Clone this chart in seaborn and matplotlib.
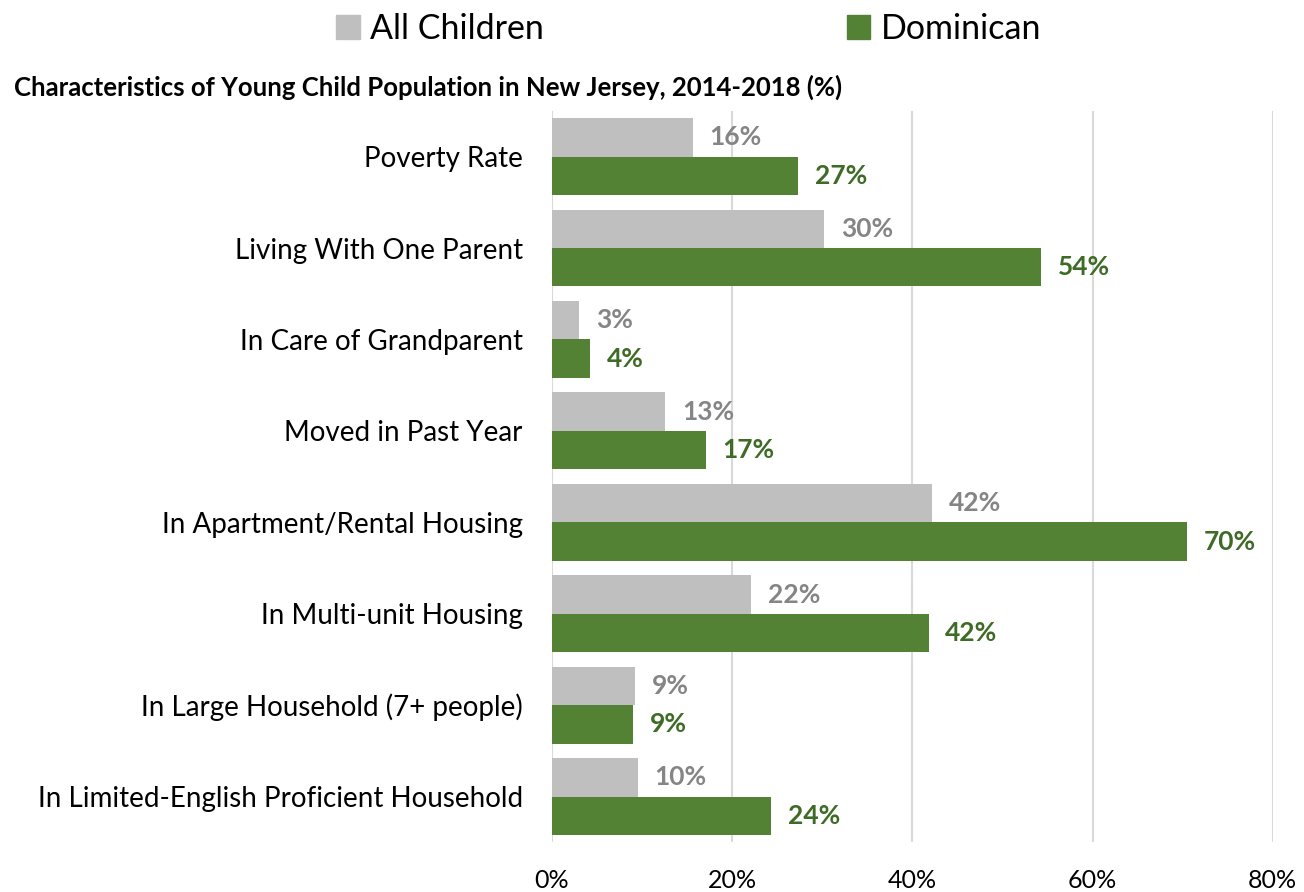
import pandas as pd
import numpy as np
import matplotlib.pyplot as plt
import seaborn as sns
from matplotlib.patches import Patch

# Données (%)
categories = ['Poverty Rate', 'Living With One Parent', 'In Care of Grandparent',
              'Moved in Past Year', 'In Apartment/Rental Housing', 'In Multi-unit Housing',
              'In Large Household (7+ people)', 'In Limited-English Proficient Household']
all_children = [15.6, 30.2, 3.0, 12.6, 42.2, 22.1, 9.2, 9.5]
dominican = [27.3, 54.3, 4.2, 17.1, 70.5, 41.8, 9.0, 24.3]
groups = ['All Children', 'Dominican']
xticks = [0, 20, 40, 60, 80]

colors = {'All Children': '#BFBFBF', 'Dominican': '#548235'}
label_colors = {'All Children': '#858585', 'Dominican': '#3E6B25'}

df = pd.DataFrame({
    'category': categories * 2,
    'value': all_children + dominican,
    'group': [groups[0]] * len(categories) + [groups[1]] * len(categories),
})

sns.set_style('white')
plt.rcParams['font.family'] = ['Lato', 'DejaVu Sans']
plt.rcParams['text.color'] = 'black'
plt.rcParams['xtick.color'] = 'black'
plt.rcParams['ytick.color'] = 'black'

fig = plt.figure(figsize=(13.04, 8.92), dpi=100)
ax = fig.add_axes([0.4233, 0.0557, 0.5527, 0.820])

sns.barplot(data=df, x='value', y='category', hue='group', order=categories,
            hue_order=groups, palette=colors, orient='h', width=0.84,
            saturation=1, linewidth=0, legend=False, ax=ax)

for cont, g in zip(ax.containers, groups):
    labels = [f'{round(v)}%' for v in cont.datavalues]
    ax.bar_label(cont, labels=labels, padding=12, fontsize=19, fontweight='bold',
                 color=label_colors[g])

ax.set_xlim(0, 80)
ax.set_xticks(xticks)
ax.set_xticklabels([f'{t}%' for t in xticks], fontsize=18)
ax.tick_params(axis='x', length=0, pad=19)
ax.tick_params(axis='y', length=0, pad=21, labelsize=20)
ax.set_xlabel('')
ax.set_ylabel('')
ax.grid(axis='x', color='#D9D9D9', linewidth=1.5)
ax.set_axisbelow(True)
for s in ax.spines.values():
    s.set_visible(False)

handles = [Patch(color=colors[g], label=g) for g in groups]
fig.legend(handles=handles, loc='center', bbox_to_anchor=(0.528, 0.968), ncol=2,
           frameon=False, fontsize=24.5, handlelength=0.7, handleheight=0.7,
           handletextpad=0.3, columnspacing=8.9)

fig.text(0.011, 0.902, 'Characteristics of Young Child Population in New Jersey, 2014-2018 (%)',
         fontsize=18.5, fontweight='bold', va='center')

fig.savefig('out.png', dpi=100)
